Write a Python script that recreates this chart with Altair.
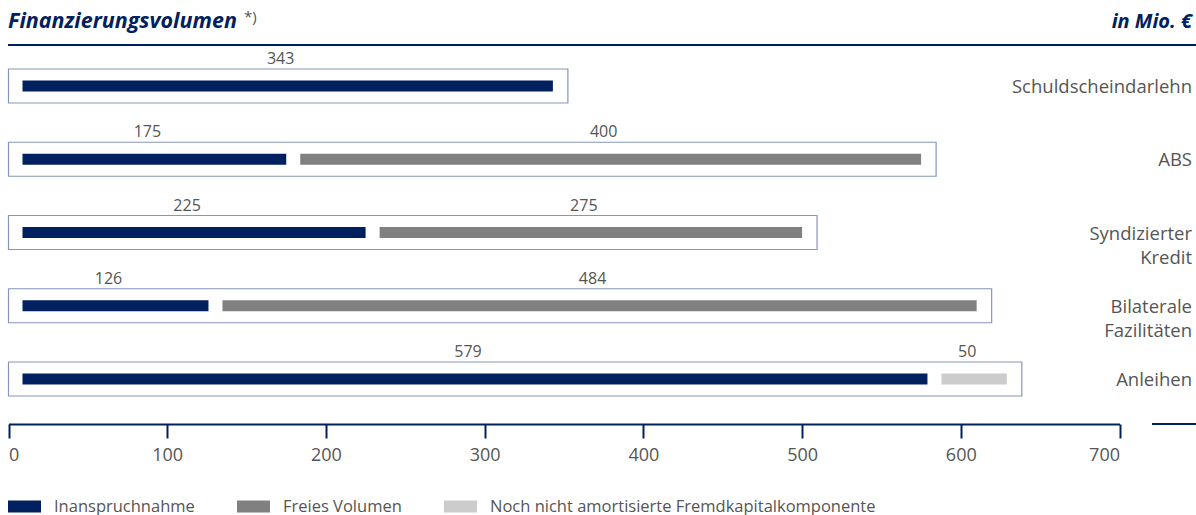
import altair as alt
import pandas as pd

# ---- data ----
categories = ["Schuldscheindarlehn", "ABS", "Syndizierter\nKredit", "Bilaterale\nFazilitäten", "Anleihen"]
inanspruchnahme = [343, 175, 225, 126, 579]
freies_volumen = [0, 400, 275, 484, 0]
noch_nicht_amortisiert = [0, 0, 0, 0, 50]
series_names = ["Inanspruchnahme", "Freies Volumen", "Noch nicht amortisierte Fremdkapitalkomponente"]
series_colors = ["#002060", "#808080", "#cccccc"]
x_ticks = [0, 100, 200, 300, 400, 500, 600, 700]
title_text = ["Finanzierungsvolumen"]
footnote_mark = ["*)"]
unit_text = ["in Mio. €"]

# ---- build tables ----
series_values = [inanspruchnahme, freies_volumen, noch_nicht_amortisiert]
seg_rows = []
box_rows = []
for i, cat in enumerate(categories):
    start = 0
    for name, vals in zip(series_names, series_values):
        v = vals[i]
        if v > 0:
            seg_rows.append(dict(cat=cat, series=name, start=start, end=start + v,
                                 mid=start + v / 2, label=str(v)))
            start += v
    box_rows.append(dict(cat=cat, zero=0, total=start))
seg = pd.DataFrame(seg_rows)
box = pd.DataFrame(box_rows)

NAVY = "#002060"
GREY_TXT = "#555555"
FONT = "Open Sans"

xscale = alt.Scale(domain=[0, 700], range=[8.5, 1119.5], nice=False, zero=False)
yscale = alt.Scale(type="point", domain=categories, range=[86, 379], padding=0)
xaxis = alt.Axis(
    values=x_ticks, grid=False, domainColor=NAVY, domainWidth=2,
    tickColor=NAVY, tickWidth=2, tickSize=14,
    labelFont=FONT, labelFontSize=18, labelColor=GREY_TXT, labelPadding=8,
    labelFlush=True, title=None,
)

boxes = alt.Chart(box).mark_bar(
    fill="white", stroke="#8795bb", strokeWidth=1.2, size=34, x2Offset=15
).encode(
    x=alt.X("zero:Q", scale=xscale, axis=xaxis),
    x2="total:Q",
    y=alt.Y("cat:N", scale=yscale, axis=None),
)

bars = alt.Chart(seg).mark_bar(size=11, xOffset=14).encode(
    x=alt.X("start:Q", scale=xscale, axis=xaxis),
    x2="end:Q",
    y=alt.Y("cat:N", scale=yscale, axis=None),
    color=alt.Color(
        "series:N",
        scale=alt.Scale(domain=series_names, range=series_colors),
        legend=alt.Legend(
            orient="none", legendX=8, legendY=490, direction="horizontal",
            title=None, symbolType="M-1,-0.36H1V0.36H-1Z", symbolSize=1089,
            symbolStrokeWidth=0, symbolOpacity=1,
            labelFont=FONT, labelFontSize=16.5, labelColor=GREY_TXT,
            labelOffset=13, columnPadding=42, padding=0, labelLimit=600,
        ),
    ),
)

value_labels = alt.Chart(seg).mark_text(
    dy=-27, fontSize=16, font=FONT, color=GREY_TXT, baseline="middle", align="center"
).encode(
    x=alt.X("mid:Q", scale=xscale, axis=xaxis),
    y=alt.Y("cat:N", scale=yscale, axis=None),
    text="label:N",
)

cat_labels = alt.Chart(box).mark_text(
    align="right", baseline="middle", fontSize=18.5, font=FONT, color=GREY_TXT,
    lineBreak="\n", lineHeight=24, dy=1
).encode(
    x=alt.value(1192),
    y=alt.Y("cat:N", scale=yscale, axis=None),
    text="cat:N",
)

title = alt.Chart(pd.DataFrame({"t": title_text})).mark_text(
    align="left", baseline="middle", fontSize=21.5, font=FONT, fontWeight="bold",
    fontStyle="italic", color=NAVY
).encode(x=alt.value(8), y=alt.value(22), text="t:N")

star = alt.Chart(pd.DataFrame({"t": footnote_mark})).mark_text(
    align="left", baseline="middle", fontSize=15, font=FONT, color=GREY_TXT
).encode(x=alt.value(244), y=alt.value(17), text="t:N")

unit = alt.Chart(pd.DataFrame({"t": unit_text})).mark_text(
    align="right", baseline="middle", fontSize=20, font=FONT, fontWeight="bold",
    fontStyle="italic", color=NAVY
).encode(x=alt.value(1192), y=alt.value(22), text="t:N")

header_rule = alt.Chart(pd.DataFrame({"a": [0]})).mark_rule(
    color=NAVY, strokeWidth=2
).encode(x=alt.value(8), x2=alt.value(1196), y=alt.value(45))

axis_stub = alt.Chart(pd.DataFrame({"a": [0]})).mark_rule(
    color=NAVY, strokeWidth=2
).encode(x=alt.value(1152), x2=alt.value(1196), y=alt.value(424))

chart = alt.layer(
    boxes, bars, value_labels, cat_labels, title, star, unit, header_rule, axis_stub
).properties(
    width=1196, height=424,
    autosize=alt.AutoSizeParams(type="none"),
    padding={"left": 0, "top": 0, "right": 0, "bottom": 91},
).configure_view(strokeWidth=0)

chart.save("out.html", embed_options={"renderer": "svg", "actions": False})
